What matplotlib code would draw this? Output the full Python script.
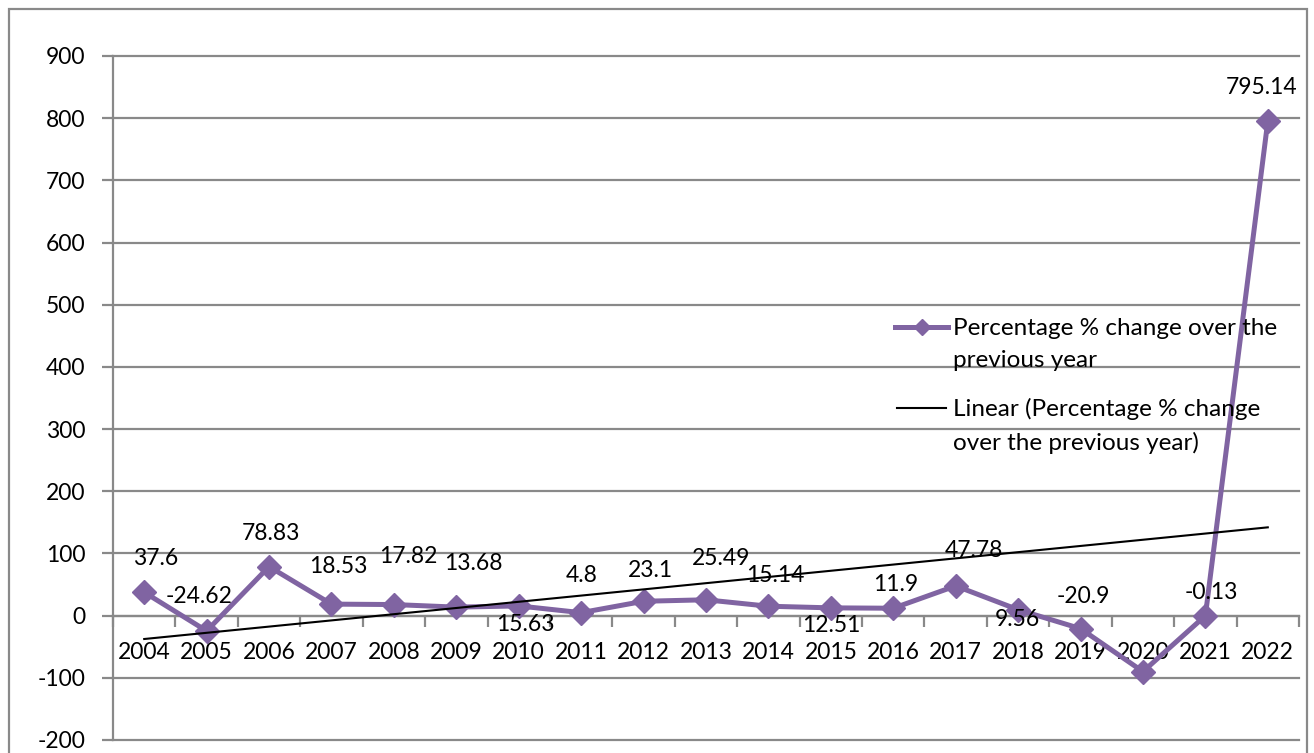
import numpy as np
import matplotlib
matplotlib.use("Agg")
import matplotlib.pyplot as plt
from matplotlib.lines import Line2D
from matplotlib.patches import Rectangle

years = [str(y) for y in range(2004, 2023)]
pct_change = [37.6, -24.62, 78.83, 18.53, 17.82, 13.68, 15.63, 4.8, 23.1, 25.49,
              15.14, 12.51, 11.9, 47.78, 9.56, -20.9, -90.0, -0.13, 795.14]
# 2020 has no data label in the source chart
point_labels = ["37.6", "-24.62", "78.83", "18.53", "17.82", "13.68", "15.63", "4.8",
                "23.1", "25.49", "15.14", "12.51", "11.9", "47.78", "9.56", "-20.9",
                None, "-0.13", "795.14"]
y_ticks = list(range(-200, 1000, 100))

# label offsets from each point, in pixels (dx, dy up)
label_offsets = [(11, 34), (-8, 34), (2, 33), (7, 38), (14, 48), (17, 44), (7, -19),
                 (1, 37), (7, 31), (15, 41), (7, 31), (0, -18), (2, 24), (18, 35),
                 (-1, -10), (3, 32), (0, 0), (6, 23), (-6, 34)]

PURPLE = "#8064a2"
GRAY = "#898989"
FS = 16.5
plt.rcParams["font.family"] = ["Lato", "DejaVu Sans"]
plt.rcParams["font.size"] = FS

W, H = 1314, 753
fig = plt.figure(figsize=(W / 100, H / 100), dpi=100)
ax = fig.add_axes([113 / W, 1 - 740 / H, (1299 - 113) / W, (740 - 56) / H])

# spine position first: it resets the tick objects
for s in ["top", "right"]:
    ax.spines[s].set_visible(False)
ax.spines["bottom"].set_position(("data", 0))
ax.spines["bottom"].set_color(GRAY)
ax.spines["bottom"].set_linewidth(1.6)
ax.spines["left"].set_color(GRAY)
ax.spines["left"].set_linewidth(1.6)

x = np.arange(len(years))
vals = np.array(pct_change)

for yv in y_ticks:
    ax.axhline(yv, color=GRAY, lw=1.6, clip_on=False, zorder=1)

ax.plot(x, vals, color=PURPLE, lw=3.6, marker="D", markersize=12,
        markeredgecolor=PURPLE, zorder=3, clip_on=False)

# linear trend line
slope, intercept = np.polyfit(x, vals, 1)
ax.plot(x, slope * x + intercept, color="black", lw=1.5, zorder=4)

for i, (v, lab) in enumerate(zip(vals, point_labels)):
    if lab is None:
        continue
    dx, dy = label_offsets[i]
    ax.annotate(lab, (i, v), xytext=(dx, dy), textcoords="offset pixels",
                ha="center", va="center", fontsize=FS, zorder=5)

ax.set_xlim(-0.5, len(years) - 0.5)
ax.set_ylim(-200, 900)
ax.set_yticks(y_ticks)
ax.set_yticklabels([str(t) for t in y_ticks])
ax.tick_params(axis="y", length=8, width=1.6, color=GRAY, pad=12, labelsize=FS)

ax.set_xticks(x)
ax.set_xticklabels(years)
ax.set_xticks(np.arange(-0.5, len(years)), minor=True)
ax.tick_params(axis="x", which="major", length=0, pad=19, labelsize=FS)
ax.tick_params(axis="x", which="minor", length=8, width=1.6, color=GRAY, direction="out")

# legend drawn in figure pixels so the handle sits on the first text line
def fx(px):
    return px / W

def fy(py):
    return 1 - py / H

LFS = 17.5
fig.add_artist(Line2D([fx(895), fx(948)], [fy(327), fy(327)], color=PURPLE, lw=3.6,
                      transform=fig.transFigure))
fig.add_artist(Line2D([fx(921.5)], [fy(327)], color=PURPLE, marker="D", markersize=8,
                      transform=fig.transFigure))
fig.text(fx(953), fy(318), "Percentage % change over the\nprevious year", fontsize=LFS,
         va="top", ha="left", linespacing=1.65)
fig.add_artist(Line2D([fx(897), fx(946)], [fy(408), fy(408)], color="black", lw=1.5,
                      transform=fig.transFigure))
fig.text(fx(953), fy(398), "Linear (Percentage % change\nover the previous year)", fontsize=LFS,
         va="top", ha="left", linespacing=1.65)

# outer chart border
fig.add_artist(Rectangle((fx(9), -0.05), fx(1307) - fx(9), fy(9) + 0.05, fill=False,
                         edgecolor=GRAY, lw=1.6, transform=fig.transFigure))

fig.savefig("out.png", dpi=100)
